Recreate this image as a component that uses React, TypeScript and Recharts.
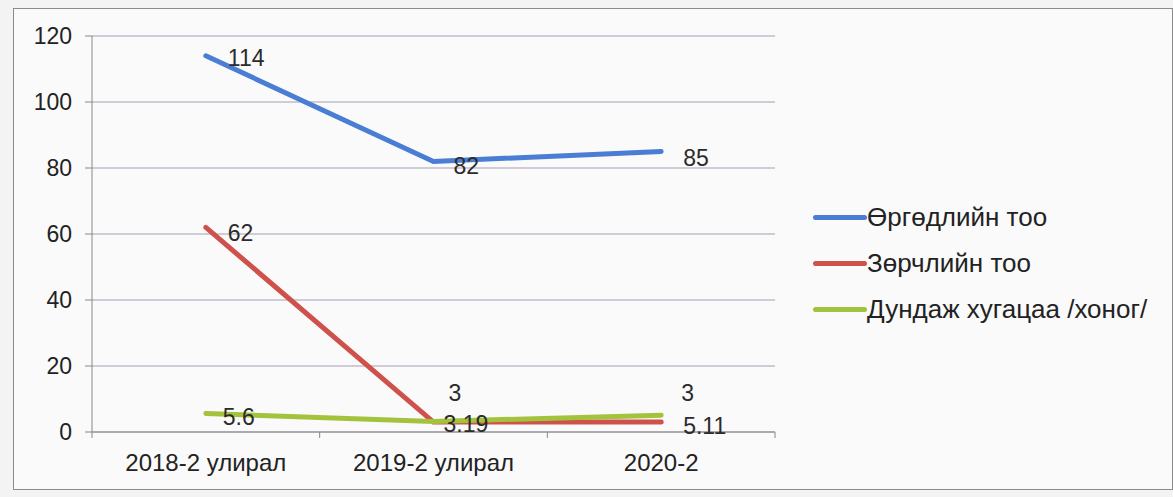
import { LineChart, Line, XAxis, YAxis, CartesianGrid, LabelList } from 'recharts';

const categories = ['2018-2 улирал', '2019-2 улирал', '2020-2'];
const complaints = [114, 82, 85];
const violations = [62, 3, 3];
const avgDays = [5.6, 3.19, 5.11];
const yTicks = [0, 20, 40, 60, 80, 100, 120];

const BLUE = '#4a7ed4';
const RED = '#cf514c';
const GREEN = '#a4c33c';
const FONT = "'Liberation Sans', Arial, sans-serif";

const data = categories.map((c, i) => ({
  name: c,
  complaints: complaints[i],
  violations: violations[i],
  avgDays: avgDays[i],
}));

const series = [
  { key: 'complaints', name: 'Өргөдлийн тоо', color: BLUE },
  { key: 'violations', name: 'Зөрчлийн тоо', color: RED },
  { key: 'avgDays', name: 'Дундаж хугацаа /хоног/', color: GREEN },
];

// label offsets per series (the original labels sit a bit to the right of each point)
const labelShift: Record<string, { dx: number[]; dy: number[] }> = {
  complaints: { dx: [22, 20, 22], dy: [2, 5, 6] },
  violations: { dx: [22, 15, 20], dy: [6, -29, -29] },
  avgDays: { dx: [17, 10, 22], dy: [3, 3, 11] },
};

function makeLabel(key: string) {
  return (props: any) => {
    const { x, y, value, index } = props;
    const s = labelShift[key];
    return (
      <text
        x={x + s.dx[index]}
        y={y + s.dy[index]}
        fill="#2b2b2b"
        fontSize={23}
        dominantBaseline="central"
        fontFamily={FONT}
      >
        {value}
      </text>
    );
  };
}

// category label plus Excel-style tick marks on the band boundaries
function CatTick(props: any) {
  const { x, y, payload, index } = props;
  const half = payload.offset || 0;
  const axisY = y - 22;
  return (
    <g>
      <line x1={x - half} x2={x - half} y1={axisY} y2={axisY + 6} stroke="#888" />
      {index === categories.length - 1 && (
        <line x1={x + half} x2={x + half} y1={axisY} y2={axisY + 6} stroke="#888" />
      )}
      <text x={x} y={y} dy="0.71em" textAnchor="middle" fill="#222" fontSize={24} fontFamily={FONT}>
        {payload.value}
      </text>
    </g>
  );
}

function LegendBox() {
  return (
    <div style={{ position: 'absolute', left: 799, top: 185, fontFamily: FONT, fontSize: 26, color: '#222' }}>
      {series.map((s) => (
        <div key={s.key} style={{ display: 'flex', alignItems: 'center', height: 46 }}>
          <div style={{ width: 54, height: 5, borderRadius: 3, background: s.color }} />
          <span>{s.name}</span>
        </div>
      ))}
    </div>
  );
}

export default function App() {
  return (
    <div style={{ position: 'absolute', left: 0, top: 0, width: 1173, height: 497, background: '#f3f3f3' }}>
      <div
        style={{
          position: 'absolute',
          left: 13,
          top: 8,
          width: 1158,
          height: 480,
          border: '1px solid #8a8a8a',
          background: '#fafafa',
        }}
      >
        <LineChart width={1150} height={480} data={data} margin={{ top: 27, right: 389, left: 18, bottom: 17 }}>
          <CartesianGrid vertical={false} stroke="#a49db4" strokeWidth={1.2} />
          <XAxis
            dataKey="name"
            scale="band"
            stroke="#888"
            tickLine={false}
            tickSize={6}
            tickMargin={16}
            height={40}
            interval={0}
            tick={<CatTick />}
          />
          <YAxis
            domain={[0, 120]}
            ticks={yTicks}
            width={60}
            stroke="#888"
            tickSize={7}
            tickMargin={13}
            tick={{ fill: '#222', fontSize: 23, fontFamily: FONT }}
          />
          {series.map((s) => (
            <Line
              key={s.key}
              type="linear"
              dataKey={s.key}
              name={s.name}
              stroke={s.color}
              strokeWidth={5}
              strokeLinecap="round"
              dot={false}
              activeDot={false}
              isAnimationActive={false}
            >
              <LabelList dataKey={s.key} content={makeLabel(s.key)} />
            </Line>
          ))}
        </LineChart>
        <LegendBox />
      </div>
    </div>
  );
}
